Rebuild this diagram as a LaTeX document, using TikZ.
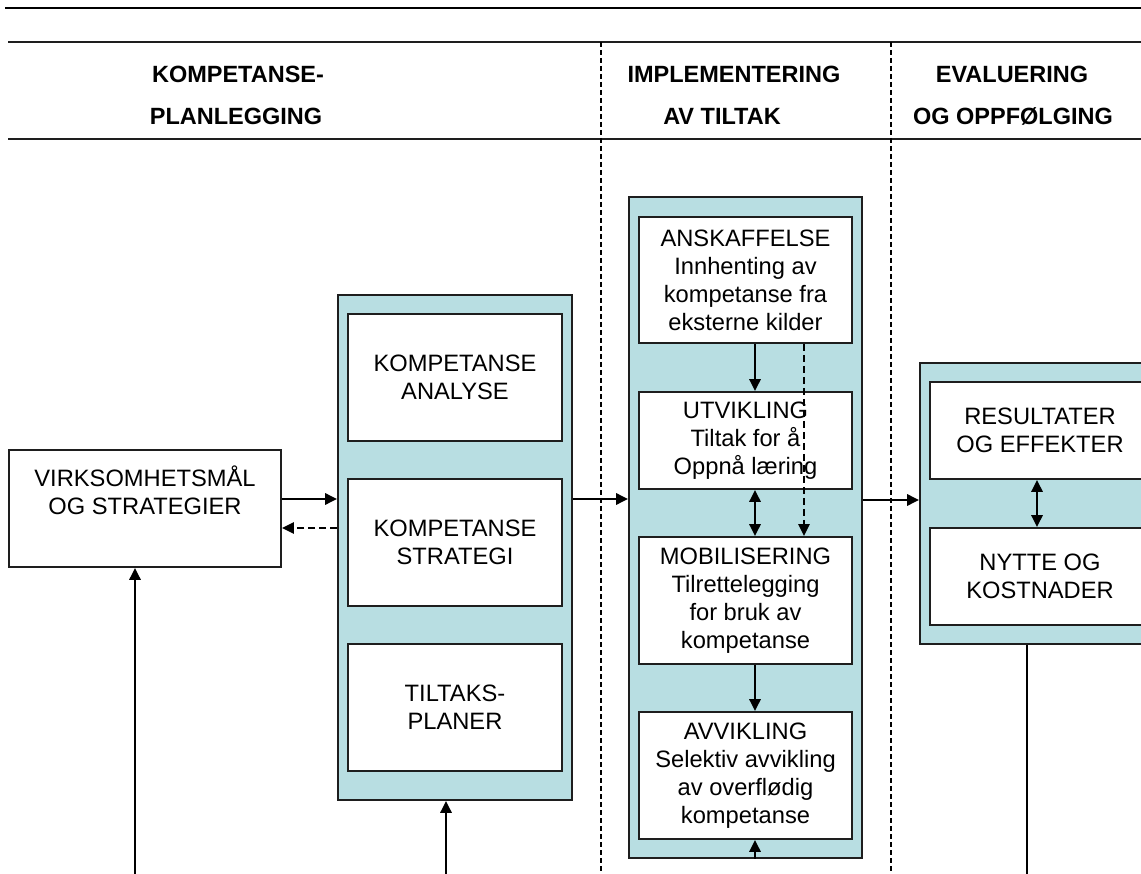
\documentclass[tikz,border=0pt]{standalone}
\usepackage{fontspec}
\setmainfont{Liberation Sans}
\usetikzlibrary{arrows.meta}
\definecolor{panel}{RGB}{184,222,226}
\definecolor{rule}{RGB}{30,30,30}
\tikzset{
  boxtext/.style={font=\fontsize{23.7}{28}\selectfont, align=center},
  headtext/.style={font=\bfseries\fontsize{23.5}{28}\selectfont, anchor=center, inner sep=0pt},
  wbox/.style={boxtext, draw=rule, line width=1.7pt, fill=white, inner sep=0pt},
  panelbox/.style={draw=rule, line width=1.7pt, fill=panel, inner sep=0pt},
  tip/.style={Triangle[length=12pt,width=11pt]},
  arr/.style={line width=2.8pt, -{Triangle[length=12pt,width=11pt]}},
  darr/.style={line width=2.8pt, {Triangle[length=12pt,width=11pt]}-{Triangle[length=12pt,width=11pt]}},
  dasharr/.style={line width=2.4pt, dash pattern=on 7pt off 4pt, -{Triangle[length=12pt,width=11pt]}},
  divider/.style={line width=2pt, dash pattern=on 5pt off 3pt},
  hrule/.style={line width=2pt, draw=rule},
}
\begin{document}
\begin{tikzpicture}[x=1pt, y=-1pt]
\useasboundingbox (0,0) rectangle (1141,874);
\clip (0,0) rectangle (1141,874);

% header rules
\draw[line width=2.8pt] (5,8) -- (1141,8);
\draw[hrule] (8,42) -- (1141,42);
\draw[hrule] (8,139) -- (1141,139);

% column headings
\node[headtext] (h1a) at (238,74) {KOMPETANSE-};
\node[headtext] (h1b) at (236,116) {PLANLEGGING};
\node[headtext] (h2a) at (734,74) {IMPLEMENTERING};
\node[headtext] (h2b) at (722,116) {AV TILTAK};
\node[headtext] (h3a) at (1012,74) {EVALUERING};
\node[headtext] (h3b) at (1013,116) {OG OPPFØLGING};

% column dividers
\draw[divider] (601,42) -- (601,874);
\draw[divider] (891,42) -- (891,874);

% business goals
\node[wbox, minimum width=272pt, minimum height=117pt] (virk) at (145,508.5)
  {VIRKSOMHETSMÅL\\OG STRATEGIER\\\strut};

% competence planning panel
\node[panelbox, minimum width=234pt, minimum height=505pt] (p1) at (455,547.5) {};
\node[wbox, minimum width=214pt, minimum height=127pt] (ana) at (455,377.5) {KOMPETANSE\\ANALYSE};
\node[wbox, minimum width=214pt, minimum height=127pt] (str) at (455,542.5) {KOMPETANSE\\STRATEGI};
\node[wbox, minimum width=214pt, minimum height=127pt] (plan) at (455,707.5) {TILTAKS-\\PLANER};

% implementation panel
\node[panelbox, minimum width=233pt, minimum height=661pt] (p2) at (745.5,527.5) {};
\node[wbox, minimum width=213pt, minimum height=126pt] (ansk) at (745.5,280)
  {ANSKAFFELSE\\Innhenting av\\kompetanse fra\\eksterne kilder};
\node[wbox, minimum width=213pt, minimum height=97pt] (utv) at (745.5,440.5)
  {UTVIKLING\\Tiltak for å\\Oppnå læring};
\node[wbox, minimum width=213pt, minimum height=127pt] (mob) at (745.5,600.5)
  {MOBILISERING\\Tilrettelegging\\ for bruk av\\kompetanse};
\node[wbox, minimum width=213pt, minimum height=127pt] (avv) at (745.5,775.5)
  {AVVIKLING\\Selektiv avvikling\\av overflødig\\kompetanse};

% evaluation panel
\node[panelbox, minimum width=240pt, minimum height=281pt] (p3) at (1040,503.5) {};
\node[wbox, minimum width=220pt, minimum height=97pt] (res) at (1040,430.5) {RESULTATER\\OG EFFEKTER};
\node[wbox, minimum width=220pt, minimum height=97pt] (nyt) at (1040,576.5) {NYTTE OG\\KOSTNADER};

% reference points for connectors
\coordinate (yA) at (0,499);
\coordinate (yB) at (0,528);
\coordinate (yC) at (0,500);
\coordinate (b1) at (135,874);
\coordinate (b2) at (446,874);
\coordinate (b3) at (1027,874);
\coordinate (cx) at (755,0);
\coordinate (dx) at (804,0);
\coordinate (ex) at (1037,0);

% connectors between columns
\draw[arr] (virk.east |- yA) -- (p1.west |- yA);
\draw[dasharr] (p1.west |- yB) -- (virk.east |- yB);
\draw[arr] (b1) -- (b1 |- virk.south);
\draw[arr] (b2) -- (b2 |- p1.south);
\draw[arr] (p1.east |- yA) -- (p2.west |- yA);
\draw[arr] (p2.east |- yC) -- (p3.west |- yC);
\draw[line width=1.7pt] (p3.south -| b3) -- (b3);

% connectors inside the implementation panel
\draw[arr] (ansk.south -| cx) -- (utv.north -| cx);
\draw[darr] (utv.south -| cx) -- (mob.north -| cx);
\draw[arr] (mob.south -| cx) -- (avv.north -| cx);
\draw[arr] (p2.south -| cx) -- (avv.south -| cx);
\draw[dasharr] (ansk.south -| dx) -- (mob.north -| dx);

% connector inside the evaluation panel
\draw[darr] (res.south -| ex) -- (nyt.north -| ex);
\end{tikzpicture}
\end{document}
